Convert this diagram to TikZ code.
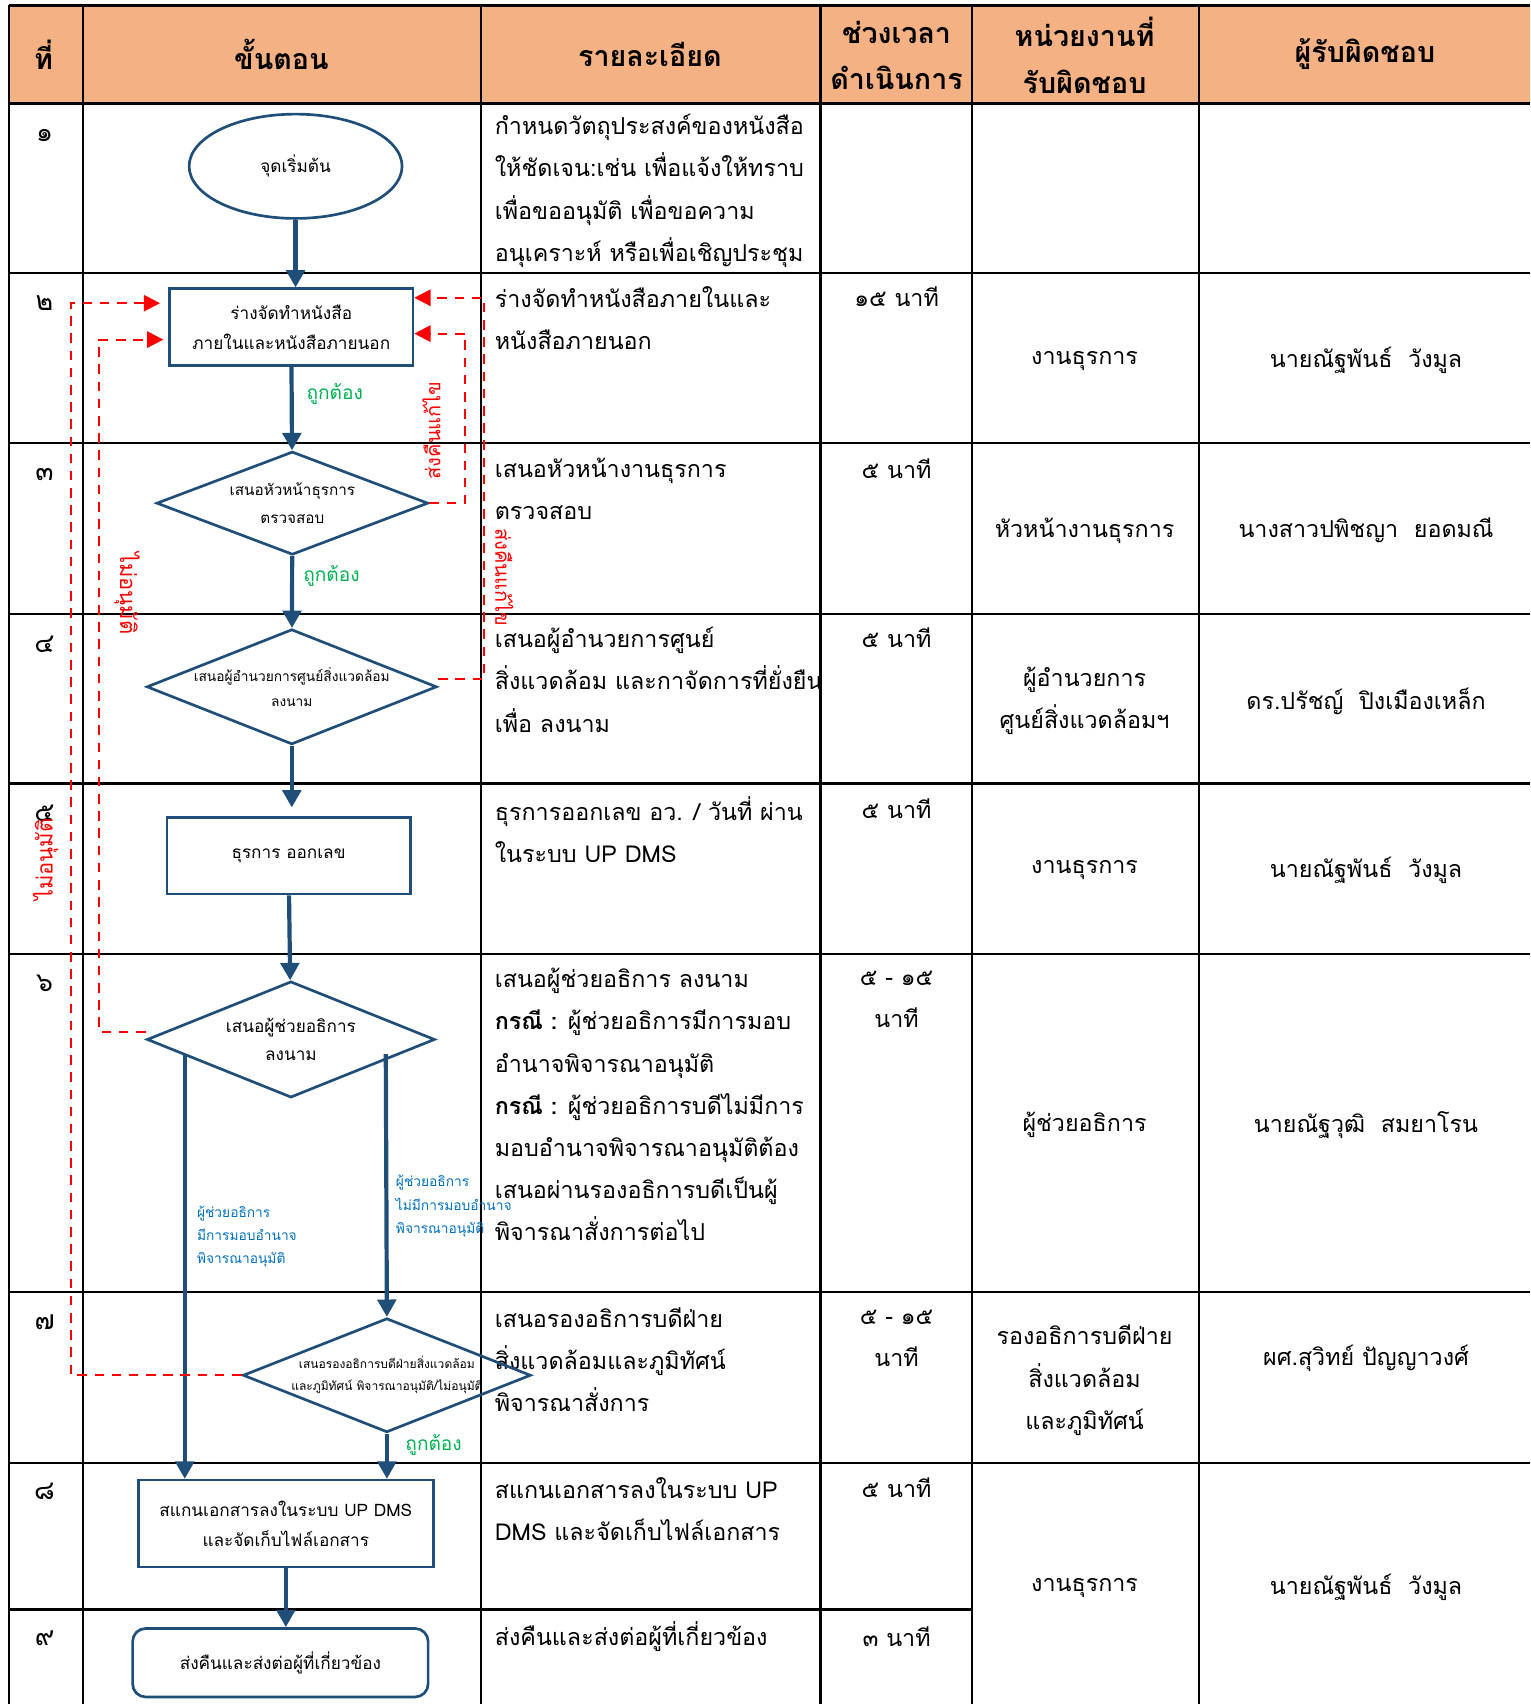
\documentclass[tikz,border=0pt]{standalone}
\usepackage{fontspec}
\setmainfont[Script=Thai]{Loma}
\usetikzlibrary{arrows.meta, positioning, shapes, calc}
\definecolor{FlowBlue}{RGB}{31, 78, 121}
\definecolor{HeadOrange}{RGB}{244, 177, 131}
\definecolor{OkGreen}{RGB}{0, 176, 80}
\definecolor{NoteBlue}{RGB}{0, 112, 192}
\definecolor{BackRed}{RGB}{255, 0, 0}

\begin{document}
\begin{tikzpicture}[x=0.02cm, y=-0.02cm,
  grid/.style={black, line width=1.1pt},
  head/.style={font=\fontsize{15}{24.5}\selectfont\bfseries, align=center, inner sep=0pt},
  cell/.style={font=\fontsize{12.2}{22.1}\selectfont, align=left, anchor=west, inner sep=0pt},
  tcell/.style={font=\fontsize{12.2}{22.1}\selectfont, align=center, inner sep=0pt},
  num/.style={font=\fontsize{14}{16}\selectfont, inner sep=0pt},
  box/.style={draw=FlowBlue, line width=1.4pt, fill=white, font=\fontsize{9}{15.5}\selectfont, align=center, inner sep=0pt},
  dia/.style={diamond, draw=FlowBlue, line width=1.4pt, inner sep=0pt},
  dtxt/.style={font=\fontsize{8}{14.5}\selectfont, align=center, inner sep=0pt},
  arr/.style={-{Triangle[length=3.2mm, width=3.4mm]}, FlowBlue, line width=2.2pt},
  back/.style={-{Triangle[length=3mm, width=3mm]}, BackRed, dash pattern=on 5pt off 4pt, line width=1.1pt},
  ok/.style={font=\fontsize{10}{12}\selectfont, text=OkGreen, inner sep=0pt},
  note/.style={font=\fontsize{7.2}{12.2}\selectfont, text=NoteBlue, align=left, anchor=west, inner sep=0pt},
  nolab/.style={font=\fontsize{11.5}{14}\selectfont, text=BackRed, inner sep=0pt}]
\useasboundingbox (0,0) rectangle (1408,1568);
% table
\fill[HeadOrange] (8,5) rectangle (1408,95);
\draw[grid, line width=1.7pt] (8,5) -- (1408,5);
\draw[grid, line width=1.7pt] (8,95) -- (1408,95);
\draw[grid] (8,5) -- (8,1568); \draw[grid] (76,5) -- (76,1568); \draw[grid] (443,5) -- (443,1568);
\draw[grid] (755,5) -- (755,1568); \draw[grid] (894,5) -- (894,1568); \draw[grid] (1103,5) -- (1103,1568);
\draw[grid] (8,251) -- (1408,251); \draw[grid] (8,408) -- (1408,408); \draw[grid] (8,565) -- (1408,565);
\draw[grid] (8,721) -- (1408,721); \draw[grid] (8,878) -- (1408,878); \draw[grid] (8,1189) -- (1408,1189);
\draw[grid] (8,1346) -- (1408,1346); \draw[grid] (8,1481) -- (894,1481);
% header
\node[head] (h1) at (40,50) {ที่};
\node[head] (h2) at (259,50) {ขั้นตอน};
\node[head] (h3) at (598,50) {รายละเอียด};
\node[head] (h4) at (825,51) {ช่วงเวลา\\ดำเนินการ};
\node[head] (h5) at (998,51) {หน่วยงานที่\\รับผิดชอบ};
\node[head] (h6) at (1256,50) {ผู้รับผิดชอบ};
% step numbers
\node[num] (n1) at (41,125) {๑}; \node[num] (n2) at (41,279) {๒}; \node[num] (n3) at (41,437) {๓};
\node[num] (n4) at (41,593) {๔}; \node[num] (n5) at (41,748) {๕}; \node[num] (n6) at (41,905) {๖};
\node[num] (n7) at (41,1217) {๗}; \node[num] (n8) at (41,1372) {๘}; \node[num] (n9) at (41,1507) {๙};
% details
\node[cell] (t1) at (455,175.5) {กำหนดวัตถุประสงค์ของหนังสือ\\ให้ชัดเจน:เช่น เพื่อแจ้งให้ทราบ\\เพื่อขออนุมัติ เพื่อขอความ\\อนุเคราะห์ หรือเพื่อเชิญประชุม};
\node[cell] (t2) at (455,292.5) {ร่างจัดทำหนังสือภายในและ\\หนังสือภายนอก};
\node[cell] (t3) at (455,450) {เสนอหัวหน้างานธุรการ\\ตรวจสอบ};
\node[cell] (t4) at (455,625.5) {เสนอผู้อำนวยการศูนย์\\สิ่งแวดล้อม และกาจัดการที่ยั่งยืน\\เพื่อ ลงนาม};
\node[cell] (t5) at (455,763) {ธุรการออกเลข อว. / วันที่ ผ่าน\\ในระบบ UP DMS};
\node[cell] (t6) at (455,1016.5) {เสนอผู้ช่วยอธิการ ลงนาม\\{\bfseries กรณี :} ผู้ช่วยอธิการมีการมอบ\\อำนาจพิจารณาอนุมัติ\\{\bfseries กรณี :} ผู้ช่วยอธิการบดีไม่มีการ\\มอบอำนาจพิจารณาอนุมัติต้อง\\เสนอผ่านรองอธิการบดีเป็นผู้\\พิจารณาสั่งการต่อไป};
\node[cell] (t7) at (455,1251) {เสนอรองอธิการบดีฝ่าย\\สิ่งแวดล้อมและภูมิทัศน์\\พิจารณาสั่งการ};
\node[cell] (t8) at (455,1388.5) {สแกนเอกสารลงในระบบ UP\\DMS และจัดเก็บไฟล์เอกสาร};
\node[cell] (t9) at (455,1506) {ส่งคืนและส่งต่อผู้ที่เกี่ยวข้อง};
% time
\node[tcell] (m2) at (825,273) {๑๕ นาที};
\node[tcell] (m3) at (825,431) {๕ นาที};
\node[tcell] (m4) at (825,587) {๕ นาที};
\node[tcell] (m5) at (825,744) {๕ นาที};
\node[tcell] (m6) at (825,919.5) {๕ - ๑๕\\นาที};
\node[tcell] (m7) at (825,1231.5) {๕ - ๑๕\\นาที};
\node[tcell] (m8) at (825,1369) {๕ นาที};
\node[tcell] (m9) at (825,1506) {๓ นาที};
% unit
\node[tcell] (u2) at (998,332) {งานธุรการ};
\node[tcell] (u3) at (998,488) {หัวหน้างานธุรการ};
\node[tcell] (u4) at (998,645) {ผู้อำนวยการ\\ศูนย์สิ่งแวดล้อมฯ};
\node[tcell] (u5) at (998,801) {งานธุรการ};
\node[tcell] (u6) at (998,1035) {ผู้ช่วยอธิการ};
\node[tcell] (u7) at (998,1270) {รองอธิการบดีฝ่าย\\สิ่งแวดล้อม\\และภูมิทัศน์};
\node[tcell] (u8) at (998,1461) {งานธุรการ};
% person
\node[tcell] (p2) at (1257,332) {นายณัฐพันธ์\ \ วังมูล};
\node[tcell] (p3) at (1257,488) {นางสาวปพิชญา\ \ ยอดมณี};
\node[tcell] (p4) at (1257,645) {ดร.ปรัชญ์\ \ ปิงเมืองเหล็ก};
\node[tcell] (p5) at (1257,801) {นายณัฐพันธ์\ \ วังมูล};
\node[tcell] (p6) at (1257,1035) {นายณัฐวุฒิ\ \ สมยาโรน};
\node[tcell] (p7) at (1257,1250) {ผศ.สุวิทย์ ปัญญาวงศ์};
\node[tcell] (p8) at (1257,1461) {นายณัฐพันธ์\ \ วังมูล};
% flow
\node[box, ellipse, minimum width=3.92cm, minimum height=1.92cm] (st) at (272,153) {จุดเริ่มต้น};
\node[box, minimum width=4.48cm, minimum height=1.41cm] (r2) at (268,301) {ร่างจัดทำหนังสือ\\ภายในและหนังสือภายนอก};
\node[dia, minimum width=5cm, minimum height=1.9cm] (d3) at (269,463) {};
\node[dtxt] (d3t) at (d3) {เสนอหัวหน้าธุรการ\\ตรวจสอบ};
\node[dia, minimum width=5.34cm, minimum height=2.12cm] (d4) at (268.5,632) {};
\node[dtxt, font=\fontsize{7.2}{13}\selectfont] (d4t) at (d4) {เสนอผู้อำนวยการศูนย์สิ่งแวดล้อม\\ลงนาม};
\node[box, minimum width=4.48cm, minimum height=1.41cm] (r5) at (265.5,787.5) {ธุรการ ออกเลข};
\node[dia, minimum width=5.3cm, minimum height=2.14cm] (d6) at (267.7,956.5) {};
\node[dtxt, font=\fontsize{9}{15}\selectfont] (d6t) at (d6) {เสนอผู้ช่วยอธิการ\\ลงนาม};
\node[dia, minimum width=5.3cm, minimum height=2.1cm] (d7) at (356,1265.5) {};
\node[dtxt, font=\fontsize{6.3}{11.5}\selectfont] (d7t) at (d7) {เสนอรองอธิการบดีฝ่ายสิ่งแวดล้อม\\และภูมิทัศน์ พิจารณาอนุมัติ/ไม่อนุมัติ};
\node[box, minimum width=5.43cm, minimum height=1.6cm] (r8) at (263,1402) {สแกนเอกสารลงในระบบ UP DMS\\และจัดเก็บไฟล์เอกสาร};
\node[box, rounded corners=0.24cm, minimum width=5.44cm, minimum height=1.26cm] (r9) at (258,1530) {ส่งคืนและส่งต่อผู้ที่เกี่ยวข้อง};
\coordinate (d6a) at (170,971);
\coordinate (d6b) at (355,970);
\draw[arr] (st.south) -- (st.south |- r2.north);
\draw[arr] (r2) -- (d3);
\draw[arr] (d3) -- (d4);
\draw[arr, shorten >=0.16cm] (d4.south) -- (d4.south |- r5.north);
\draw[arr] (r5) -- (d6);
\draw[arr] (d6a) -- (d6a |- r8.north);
\draw[arr] (d6b) -- (d7.north);
\draw[arr] (d7.south) -- (d7.south |- r8.north);
\draw[arr] (r8.south) -- (r8.south |- r9.north);
\node[ok] (ok1) at (308,363) {ถูกต้อง};
\node[ok] (ok2) at (305,530) {ถูกต้อง};
\node[ok] (ok3) at (399,1330) {ถูกต้อง};
\node[note] (nt1) at (181,1138) {ผู้ช่วยอธิการ\\มีการมอบอำนาจ\\พิจารณาอนุมัติ};
\node[note] (nt2) at (364,1110) {ผู้ช่วยอธิการ\\ไม่มีการมอบอำนาจ\\พิจารณาอนุมัติ};
% returns
\draw[back] (d3.east) -- ++(33,0) |- ([yshift=-0.12cm]r2.east);
\draw[back] ([yshift=0.14cm]d4.east) -- ++(42,0) |- ([yshift=0.54cm]r2.east);
\draw[back] ([yshift=0.14cm]d6.west) -- ++(-43,0) |- ([yshift=-0.23cm, xshift=-0.09cm]r2.west);
\draw[back] (d7.west) -- ++(-157,0) |- ([yshift=0.44cm, xshift=-0.15cm]r2.west);
\node[nolab, font=\fontsize{10.5}{14}\selectfont, rotate=90] (rl1) at (397,396) {ส่งคืนแก้ไข};
\node[nolab, font=\fontsize{10.5}{14}\selectfont, rotate=-90] (rl2) at (464,531) {ส่งคืนแก้ไข};
\node[nolab, rotate=-90] (rl3) at (117,546) {ไม่อนุมัติ};
\node[nolab, rotate=90] (rl4) at (42,791) {ไม่อนุมัติ};
\end{tikzpicture}
\end{document}
